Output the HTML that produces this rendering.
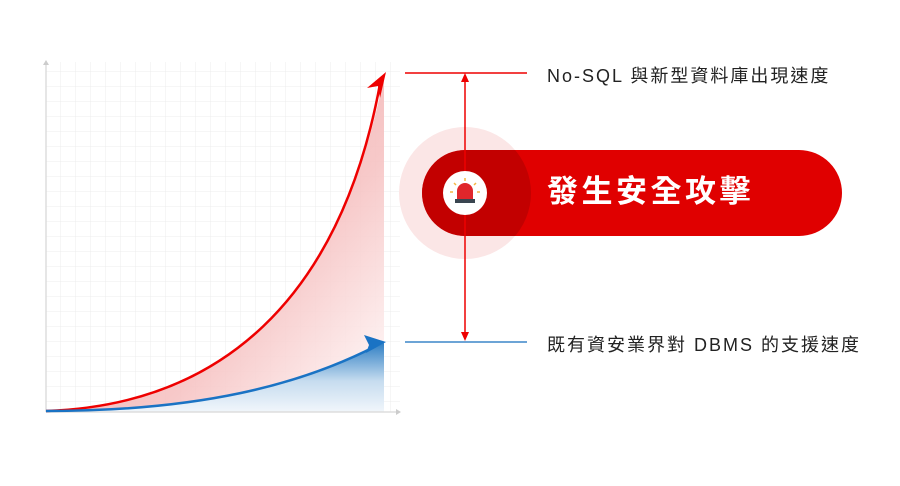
<!DOCTYPE html>
<html><head><meta charset="utf-8"><style>
body{margin:0;background:#fff;width:900px;height:486px;overflow:hidden;position:relative;font-family:"Liberation Sans","Noto Sans CJK TC",sans-serif}
.t{position:absolute;font-size:18px;color:#222;letter-spacing:2px}
</style></head><body>
<svg width="900" height="486" style="position:absolute;left:0;top:0">
<defs>
<pattern id="g" width="15" height="15" patternUnits="userSpaceOnUse" x="46" y="12">
<path d="M15 0V15M0 15H15" stroke="#ececec" stroke-width="1" fill="none"/></pattern>
<linearGradient id="rf" x1="0.3" y1="0.2" x2="1" y2="0.8"><stop offset="0" stop-color="#f2a9a9"/><stop offset="0.6" stop-color="#f6c3c3"/><stop offset="1" stop-color="#fdeeee"/></linearGradient>
<linearGradient id="bf" x1="0" y1="0" x2="0" y2="1"><stop offset="0" stop-color="#2f7fc4"/><stop offset="0.55" stop-color="#c6dcef"/><stop offset="1" stop-color="#f1f6fb"/></linearGradient>
</defs>
<rect x="46" y="62" width="354" height="350" fill="url(#g)"/>
<path d="M46 411 C220 405 340 300 384 76 L384 412 L46 412Z" fill="url(#rf)" opacity="0.9"/>
<path d="M46 411 C200 411 300 385 384 343 L384 412 L46 412Z" fill="url(#bf)"/>
<line x1="46" y1="62" x2="46" y2="412" stroke="#ddd" stroke-width="1.5"/>
<line x1="46" y1="412" x2="398" y2="412" stroke="#ddd" stroke-width="1.5"/>
<path d="M43 65 L46 60 L49 65Z" fill="#ccc"/><path d="M396 409 L401 412 L396 415Z" fill="#ccc"/>
<path d="M46 411 C220 405 340 300 380 84" stroke="#e00" stroke-width="2.5" fill="none"/>
<path d="M386 72 L367 88 L378 86 L380 98Z" fill="#e00"/>
<path d="M46 411 C200 411 300 385 376 346" stroke="#1a73c4" stroke-width="2.5" fill="none"/>
<path d="M386 342 L364 335 L369 345 L366 353Z" fill="#1a73c4"/>
<line x1="405" y1="73" x2="527" y2="73" stroke="#e00" stroke-width="1.5"/>
<line x1="405" y1="342" x2="527" y2="342" stroke="#3b86c8" stroke-width="1.5"/>
<circle cx="465" cy="193" r="66" fill="#fbe6e6"/>
<rect x="422" y="150" width="420" height="86" rx="43" fill="#e00000"/>
<clipPath id="c"><rect x="422" y="150" width="420" height="86" rx="43"/></clipPath>
<circle cx="465" cy="193" r="66" fill="#b80000" opacity="0.75" clip-path="url(#c)"/>
<line x1="465" y1="78" x2="465" y2="336" stroke="#e00" stroke-width="1.5"/>
<path d="M461 82 L465 73 L469 82Z M461 332 L465 341 L469 332Z" fill="#e00"/>
<circle cx="465" cy="193" r="22" fill="#fff"/>
<path d="M457 199 V191 A8 8 0 0 1 473 191 V199Z" fill="#e0262b"/>
<rect x="455" y="199" width="20" height="4" fill="#3a4550"/>
<g stroke="#f5b642" stroke-width="1.5"><line x1="465" y1="178" x2="465" y2="181"/><line x1="454" y1="183" x2="456" y2="185"/><line x1="476" y1="183" x2="474" y2="185"/><line x1="450" y1="192" x2="453" y2="192"/><line x1="480" y1="192" x2="477" y2="192"/></g>
</svg>
<div class="t" style="left:547px;top:62px">No-SQL 與新型資料庫出現速度</div>
<div class="t" style="left:547px;top:331px">既有資安業界對 DBMS 的支援速度</div>
<div style="position:absolute;left:547px;top:172px;font-size:31px;font-weight:bold;color:#fff;letter-spacing:3.5px;line-height:40px">發生安全攻擊</div>
</body></html>
